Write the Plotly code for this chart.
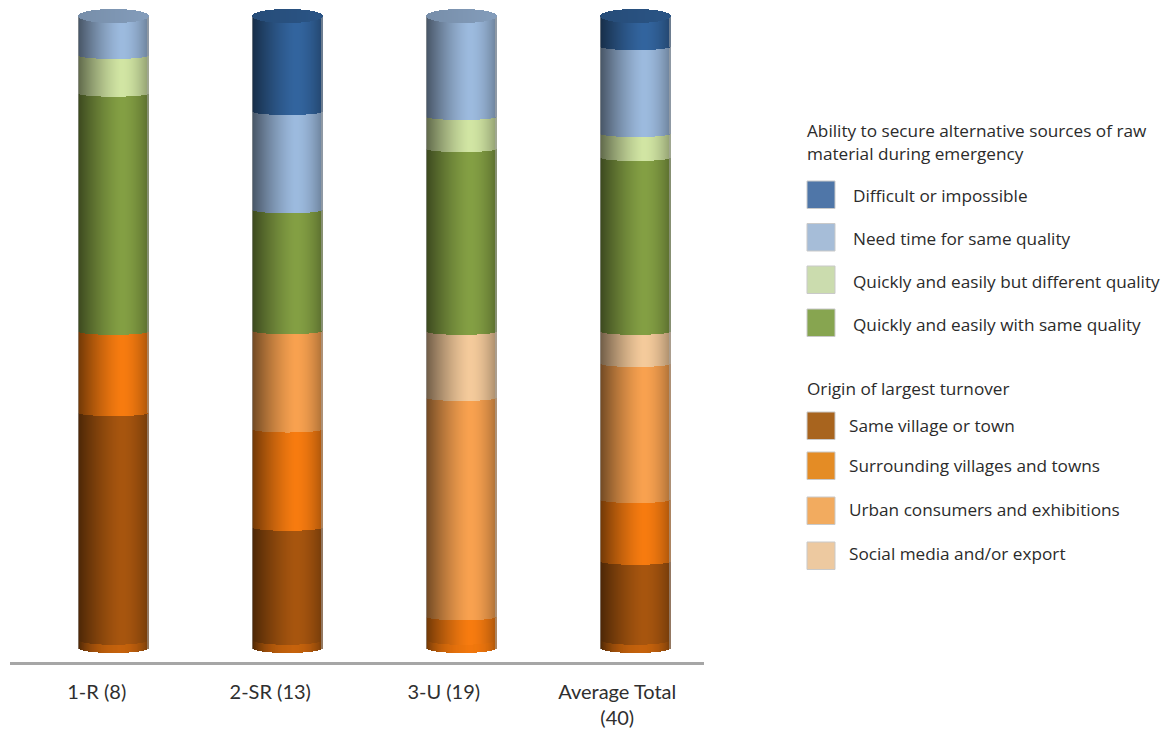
import math
import plotly.graph_objects as go

# ---- data (percent of respondents in each group) ----
categories = ["1-R (8)", "2-SR (13)", "3-U (19)", "Average Total<br>(40)"]
same_village = [37.6, 19.4, 0.0, 14.0]
surrounding = [12.9, 15.6, 5.2, 9.8]
urban = [0.0, 15.6, 34.8, 21.6]
social_media = [0.0, 0.0, 10.5, 5.1]
quick_same = [37.8, 19.2, 29.0, 27.6]
quick_different = [6.0, 0.0, 5.1, 3.8]
need_time = [5.7, 15.6, 15.4, 13.8]
difficult = [0.0, 14.6, 0.0, 4.3]

series_values = [same_village, surrounding, urban, social_media,
                 quick_same, quick_different, need_time, difficult]
series_names = ["Same village or town", "Surrounding villages and towns",
                "Urban consumers and exhibitions", "Social media and/or export",
                "Quickly and easily with same quality",
                "Quickly and easily but different quality",
                "Need time for same quality", "Difficult or impossible"]
bar_colors = ["#a8560f", "#f87c10", "#f9a250", "#f5cb9c",
              "#84a044", "#d2e6a4", "#9dbbdf", "#33659f"]

legend_title_1 = ["Ability to secure alternative sources of raw", "material during emergency"]
legend_items_1 = ["Difficult or impossible", "Need time for same quality",
                  "Quickly and easily but different quality", "Quickly and easily with same quality"]
legend_colors_1 = ["#4f76a8", "#a6bdd8", "#cbdcae", "#87a550"]
legend_title_2 = ["Origin of largest turnover"]
legend_items_2 = ["Same village or town", "Surrounding villages and towns",
                  "Urban consumers and exhibitions", "Social media and/or export"]
legend_colors_2 = ["#a8641e", "#e48c25", "#f2ab5f", "#edc9a0"]

# ---- geometry in pixels ----
W, H = 1169, 731
AX_L, AX_R = 10, 704
Y0_PX, Y100_PX = 653, 23
AXIS_PX = 662
CAT_STEP = (AX_R - AX_L) / 4.0
BAR_X0_PX, BAR_STEP_PX = 113.5, 174.0
BAR_W_PX = 70
N_SLICES = 70
ELL_BOTTOM_PX, ELL_INNER_PX, ELL_TOP_PX = 5.0, 3.5, 7.0

px_per_unit = (Y0_PX - Y100_PX) / 100.0
FONT = "Open Sans"
TXT = "#2b2b2b"


def hex_rgb(c):
    return tuple(int(c[i:i + 2], 16) for i in (1, 3, 5))


def shade(color, t):
    """t in -1..1 across the cylinder: dark edges, highlight right of centre."""
    peak = 0.25
    if t < peak:
        u = (peak - t) / (1 + peak)
        f = 1 - 0.55 * u ** 1.4
    else:
        u = (t - peak) / (1 - peak)
        f = 1 - 0.30 * u ** 1.8
    r, g, b = hex_rgb(color)
    r, g, b = r * f, g * f, b * f
    if abs(t) > 0.975:          # thin grey outline of the cylinder
        r, g, b = 0.45 * r + 0.55 * 170, 0.45 * g + 0.55 * 170, 0.45 * b + 0.55 * 170
    return f"rgb({int(r)},{int(g)},{int(b)})"


slice_w = BAR_W_PX / N_SLICES / CAT_STEP
ts = [(-1 + (2 * i + 1) / N_SLICES) for i in range(N_SLICES)]
xs, tt, cat_i = [], [], []
for c in range(len(categories)):
    centre = (BAR_X0_PX + c * BAR_STEP_PX - AX_L) / CAT_STEP - 0.5
    for t in ts:
        xs.append(centre + t * BAR_W_PX / 2 / CAT_STEP)
        tt.append(t)
        cat_i.append(c)


def lift(t, ell_px):
    return ell_px / px_per_unit * (1 - math.sqrt(max(0.0, 1 - t * t)))


def edge(level, t):
    """Height of a band edge on the front of the cylinder."""
    if level <= 0:
        e = ELL_BOTTOM_PX
    elif level >= 99.9:
        e = ELL_TOP_PX
    else:
        e = ELL_INNER_PX
    return level + lift(t, e)


fig = go.Figure()
cum = [0.0] * len(categories)
top_color = [None] * len(categories)
for vals, name, col in zip(series_values, series_names, bar_colors):
    base = [edge(cum[c], t) for c, t in zip(cat_i, tt)]
    y = [edge(cum[c] + vals[c], t) - b if vals[c] > 0 else 0
         for c, t, b in zip(cat_i, tt, base)]
    fig.add_trace(go.Bar(x=xs, y=y, base=base, width=slice_w * 1.35, name=name,
                         marker=dict(color=[shade(col, t) for t in tt], line_width=0),
                         showlegend=False, hoverinfo="skip"))
    for c in range(len(categories)):
        cum[c] += vals[c]
        if vals[c] > 0:
            top_color[c] = col

# brighter rim at the foot of each cylinder
rim_cols = [f"rgba(235,115,10,{0.28 * (1 - t * t):.3f})" for t in tt]
fig.add_trace(go.Bar(x=xs, y=[1.3] * len(xs), base=[edge(0, t) for t in tt], width=slice_w * 1.35,
                     marker=dict(color=rim_cols, line_width=0),
                     showlegend=False, hoverinfo="skip"))

# top cap of each cylinder
cap_y = [2 * ELL_TOP_PX / px_per_unit * math.sqrt(max(0.0, 1 - t * t)) for t in tt]
cap_base = [100 + lift(t, ELL_TOP_PX) for t in tt]
cap_cols = []
for c, t in zip(cat_i, tt):
    r, g, b = hex_rgb(top_color[c])
    f = 0.80 + 0.04 * t
    cap_cols.append(f"rgb({int(r * f)},{int(g * f)},{int(b * f)})")
fig.add_trace(go.Bar(x=xs, y=cap_y, base=cap_base, width=slice_w * 1.35,
                     marker=dict(color=cap_cols, line_width=0),
                     showlegend=False, hoverinfo="skip"))

# ---- legend drawn as real shapes and text, placed in page pixels ----
shapes, annots = [], []
PLOT_W = AX_R - AX_L
PLOT_H = AXIS_PX


def px_x(x):
    return (x - AX_L) / PLOT_W


def px_y(y):
    return (AXIS_PX - y) / PLOT_H


def text(x, y, s, size=17.2):
    annots.append(dict(text=s, xref="paper", yref="paper", x=px_x(x), y=px_y(y),
                       xanchor="left", yanchor="middle", showarrow=False,
                       font=dict(family=FONT, size=size, color=TXT)))


def swatch(y0, color):
    shapes.append(dict(type="rect", xref="paper", yref="paper", x0=px_x(807), x1=px_x(835),
                       y0=px_y(y0), y1=px_y(y0 + 27.5), fillcolor=color,
                       line=dict(color="#c9c9c9", width=1)))


text(805, 130, legend_title_1[0])
text(805, 154, legend_title_1[1])
for name, col, top, cy in zip(legend_items_1, legend_colors_1, [181, 223.5, 266, 309], [196, 238.5, 281, 324]):
    swatch(top, col)
    text(851, cy, name)
text(805, 388, legend_title_2[0])
for name, col, top, cy in zip(legend_items_2, legend_colors_2, [412, 452, 497, 542], [425, 465, 509, 553]):
    swatch(top, col)
    text(847, cy, name)

fig.update_layout(
    width=W, height=H, barmode="overlay", bargap=0,
    margin=dict(l=AX_L, r=W - AX_R, t=0, b=H - AXIS_PX, pad=0),
    paper_bgcolor="white", plot_bgcolor="white", showlegend=False,
    shapes=shapes, annotations=annots,
    xaxis=dict(range=[-0.5, 3.5], tickmode="array", tickvals=list(range(len(categories))),
               ticktext=categories, showgrid=False, zeroline=False, showline=True,
               linecolor="#a6a6a6", linewidth=3, ticks="", ticklabelstandoff=10,
               tickfont=dict(family="Lato", size=20, color="#2f2f2f"), fixedrange=True),
    yaxis=dict(range=[-(AXIS_PX - Y0_PX) / px_per_unit, 100 + Y100_PX / px_per_unit],
               visible=False, fixedrange=True),
)

fig.write_html("out.html", config={"displayModeBar": False},
               post_script="document.body.style.margin='0';document.body.style.overflow='hidden';")
